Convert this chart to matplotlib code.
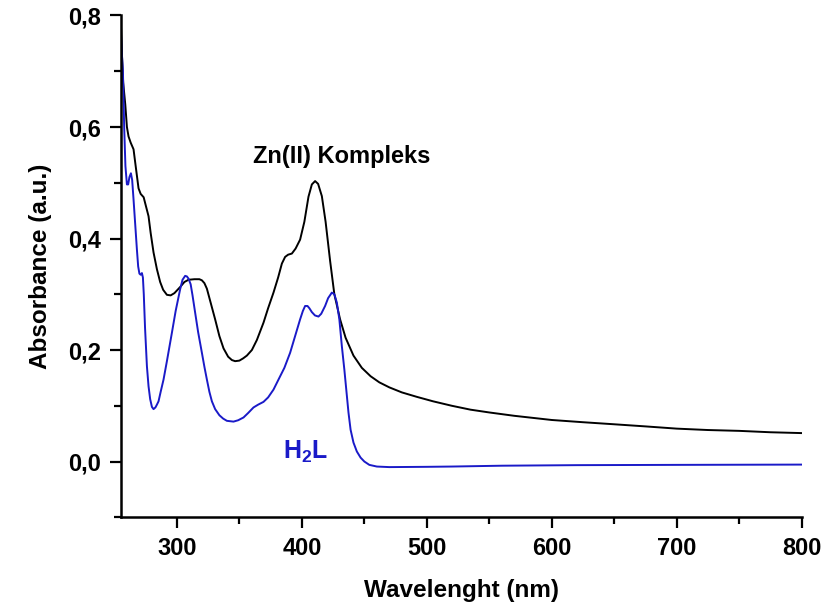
"""
UV-Vis spectra of the H2L ligand and its Zn(II) complex
"""

import matplotlib
matplotlib.use('Agg')
import matplotlib.pyplot as plt
import matplotlib.ticker as mticker

# Zn(II) complex spectrum
wl_zn = [255, 256, 257, 258.7, 260, 261.3, 263, 265.3, 267, 269.3,
         271, 273.4, 275, 277.3, 279, 281.3, 284, 286.6, 289, 292,
         295, 298, 302.6, 306, 309.3, 314, 318, 320, 322, 324,
         327, 330.6, 334, 337.3, 341, 344, 346.6, 350, 353, 356,
         360, 364, 369.3, 373, 377.3, 381, 384, 386.6, 389, 392,
         395, 398.6, 402, 405.3, 408, 410.6, 413, 416, 419, 422.6,
         426, 430.6, 435, 441.3, 448, 455, 462, 470, 480, 492,
         505, 520, 535, 550, 570, 600, 625, 650, 675, 700,
         725, 750, 775, 800]
abs_zn = [0.80, 0.73, 0.68, 0.64, 0.60, 0.583, 0.572, 0.56, 0.53, 0.49,
          0.48, 0.474, 0.46, 0.44, 0.41, 0.375, 0.345, 0.322, 0.308, 0.299,
          0.298, 0.302, 0.313, 0.322, 0.326, 0.327, 0.327, 0.325, 0.32, 0.31,
          0.285, 0.255, 0.225, 0.203, 0.188, 0.182, 0.18, 0.181, 0.185, 0.19,
          0.2, 0.218, 0.249, 0.275, 0.303, 0.33, 0.355, 0.367, 0.371, 0.373,
          0.382, 0.398, 0.43, 0.475, 0.497, 0.503, 0.498, 0.476, 0.43, 0.36,
          0.3, 0.255, 0.222, 0.19, 0.168, 0.153, 0.142, 0.133, 0.124, 0.116,
          0.108, 0.1, 0.093, 0.088, 0.082, 0.0745, 0.0705, 0.0668, 0.063, 0.059,
          0.0565, 0.055, 0.0525, 0.051]

# H2L ligand spectrum
wl_h2l = [255, 256, 256.8, 257.8, 258.8, 260, 261, 262, 263.2, 264.2,
          265.3, 266.5, 268, 269, 270, 271, 272, 272.8, 273.5, 274.5,
          276, 277.3, 278.6, 280, 281.3, 282.8, 284, 285.3, 287, 289.3,
          292, 296, 299, 302.6, 304.5, 306.6, 308, 309.3, 311, 312.5,
          314.6, 317, 320, 322, 324, 326, 328, 330.6, 334, 337,
          340, 345.3, 349, 353.3, 357, 361.3, 365, 369.3, 373, 377.3,
          381.3, 386, 390.6, 395, 398.6, 400.8, 402.6, 404.5, 406, 408,
          410.5, 413.3, 415.5, 418.6, 421, 424, 426, 428, 430, 432,
          434, 435.5, 437.3, 439, 441.3, 444, 447, 450, 454, 460,
          470, 500, 520, 560, 620, 700, 800]
abs_h2l = [0.78, 0.73, 0.70, 0.60, 0.53, 0.497, 0.497, 0.51, 0.517, 0.505,
           0.47, 0.43, 0.38, 0.35, 0.337, 0.335, 0.338, 0.33, 0.30, 0.24,
           0.171, 0.135, 0.112, 0.098, 0.094, 0.097, 0.102, 0.108, 0.125, 0.147,
           0.18, 0.231, 0.27, 0.309, 0.326, 0.333, 0.332, 0.328, 0.318, 0.298,
           0.267, 0.232, 0.195, 0.17, 0.147, 0.125, 0.108, 0.094, 0.083, 0.077,
           0.073, 0.0716, 0.074, 0.079, 0.087, 0.097, 0.102, 0.107, 0.115, 0.129,
           0.147, 0.168, 0.195, 0.228, 0.255, 0.27, 0.279, 0.279, 0.275, 0.268,
           0.262, 0.26, 0.265, 0.279, 0.293, 0.303, 0.3, 0.285, 0.255, 0.207,
           0.165, 0.13, 0.088, 0.057, 0.034, 0.018, 0.007, 0.0, -0.006, -0.009,
           -0.01, -0.0095, -0.009, -0.0075, -0.0065, -0.006, -0.0055]

BLUE = '#1a1ac8'

plt.rcParams['font.family'] = ['Liberation Sans', 'DejaVu Sans']
plt.rcParams['font.weight'] = 'bold'
plt.rcParams['mathtext.fontset'] = 'custom'
plt.rcParams['mathtext.bf'] = 'Liberation Sans:bold'
plt.rcParams['mathtext.rm'] = 'Liberation Sans:bold'

fig = plt.figure(figsize=(8.22, 6.10), dpi=100)
ax = fig.add_axes([0.1468, 0.152, 0.8285, 0.8226])

ax.plot(wl_zn, abs_zn, color='black', lw=1.4, solid_joinstyle='round')
ax.plot(wl_h2l, abs_h2l, color=BLUE, lw=1.4, solid_joinstyle='round')

ax.set_xlim(255, 800)
ax.set_ylim(-0.1, 0.8)

# Only left and bottom axes, like the original
for side in ('top', 'right'):
    ax.spines[side].set_visible(False)
for side in ('left', 'bottom'):
    ax.spines[side].set_linewidth(1.8)

ax.xaxis.set_major_locator(mticker.MultipleLocator(100))
ax.xaxis.set_minor_locator(mticker.MultipleLocator(50))
ax.yaxis.set_major_locator(mticker.FixedLocator([0.0, 0.2, 0.4, 0.6, 0.8]))
ax.yaxis.set_minor_locator(mticker.MultipleLocator(0.1))
ax.yaxis.set_major_formatter(
    mticker.FuncFormatter(lambda v, _: f'{v:.1f}'.replace('.', ','))
)

ax.tick_params(which='major', direction='out', length=8, width=1.6,
               labelsize=17, pad=6)
ax.tick_params(which='minor', direction='out', length=5, width=1.6)
for lbl in ax.get_xticklabels() + ax.get_yticklabels():
    lbl.set_fontweight('bold')

ax.set_xlabel('Wavelenght (nm)', fontsize=17.5, fontweight='bold', labelpad=14)
ax.set_ylabel('Absorbance (a.u.)', fontsize=17.5, fontweight='bold', labelpad=12)

ax.text(361, 0.535, 'Zn(II) Kompleks', fontsize=17, fontweight='bold',
        color='black', ha='left', va='baseline')
ax.text(385, 0.004, r'$\mathbf{H_2L}$', fontsize=18, color=BLUE,
        ha='left', va='baseline')

fig.savefig('out.png', dpi=100)
